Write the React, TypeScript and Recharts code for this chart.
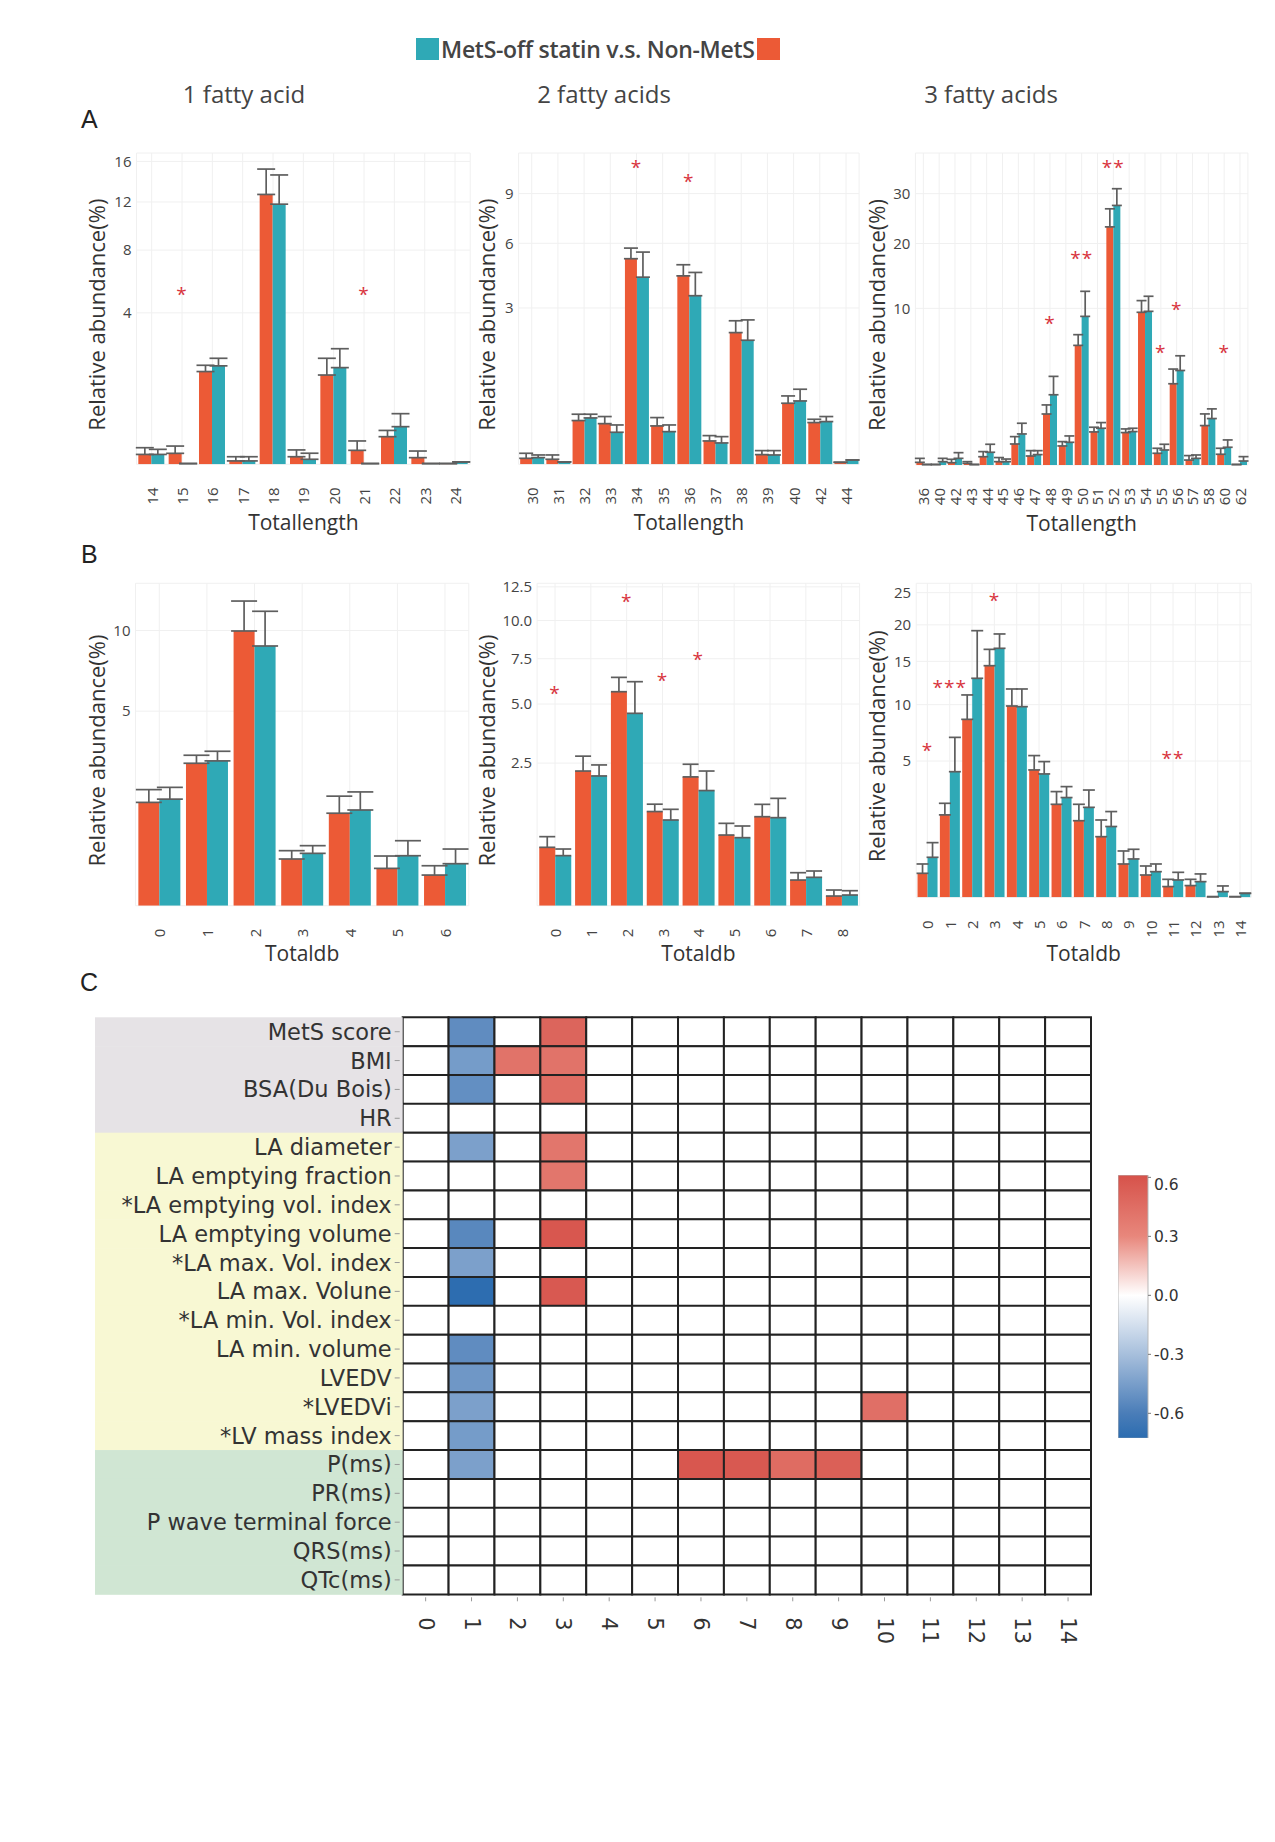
import React from 'react'
import {
  BarChart,
  Bar,
  XAxis,
  YAxis,
  CartesianGrid,
  ErrorBar,
  ReferenceDot,
  Label,
  Cell,
} from 'recharts'

const ORANGE = '#ec5a36'
const TEAL = '#2fa9b6'
const ERR = '#5e5e5e'
const STAR = '#d8333d'
const FONT = '"Open Sans", "DejaVu Sans", sans-serif'
const HM_FONT = '"DejaVu Sans", sans-serif'

// ---- A: total length, 1 / 2 / 3 fatty acids ----
const a1Cats = ['14', '15', '16', '17', '18', '19', '20', '21', '22', '23', '24']
const a1Non = [0.017, 0.021, 1.5, 0.002, 12.7, 0.01, 1.39, 0.034, 0.133, 0.0077, 0.0001]
const a1NonErr = [0.031, 0.037, 0.21, 0.008, 2.5, 0.026, 0.57, 0.061, 0.067, 0.023, 0]
const a1Mets = [0.017, 0.0001, 1.69, 0.002, 11.8, 0.0044, 1.63, 0.0001, 0.247, 0.0001, 0.001]
const a1MetsErr = [0.022, 0, 0.27, 0.008, 2.8, 0.017, 0.7, 0, 0.2, 0, 0]
const a1Stars = [
  { x: '15', y: 5.29, text: '*' },
  { x: '21', y: 5.29, text: '*' },
]

const a2Cats = ['30', '31', '32', '33', '34', '35', '36', '37', '38', '39', '40', '42', '44']
const a2Non = [0.0044, 0.0031, 0.235, 0.203, 5.19, 0.181, 4.36, 0.067, 2.13, 0.0115, 0.458, 0.214, 0.0005]
const a2NonErr = [0.0105, 0.0076, 0.073, 0.077, 0.55, 0.087, 0.53, 0.034, 0.4, 0.0115, 0.116, 0.035, 0]
const a2Mets = [0.0055, 0.0007, 0.264, 0.126, 4.3, 0.131, 3.49, 0.056, 1.89, 0.0107, 0.493, 0.224, 0.0023]
const a2MetsErr = [0.0052, 0, 0.044, 0.064, 1.23, 0.059, 1.03, 0.038, 0.67, 0.0123, 0.199, 0.056, 0]
const a2Stars = [
  { x: '34', y: 11.09, text: '*' },
  { x: '36', y: 10.13, text: '*' },
]

const a3Cats = ['36', '40', '42', '43', '44', '45', '46', '47', '48', '49', '50', '51', '52', '53', '54', '55', '56', '57', '58', '60', '62']
const a3Non = [0.0029, 0.0001, 0.0022, 0.0011, 0.028, 0.0045, 0.18, 0.033, 1.06, 0.148, 5.83, 0.446, 23.1, 0.428, 9.5, 0.056, 2.69, 0.01, 0.633, 0.047, 0.0001]
const a3NonErr = [0.015, 0, 0.011, 0.0034, 0.045, 0.018, 0.148, 0.051, 0.41, 0.075, 1.09, 0.135, 3.64, 0.102, 1.51, 0.058, 1.06, 0.026, 0.43, 0.067, 0]
const a3Mets = [0.0001, 0.0045, 0.018, 0.0001, 0.066, 0.0045, 0.393, 0.044, 2.01, 0.21, 9.0, 0.55, 27.45, 0.455, 9.62, 0.092, 3.64, 0.018, 0.879, 0.128, 0.0065]
const a3MetsErr = [0, 0.0135, 0.044, 0, 0.109, 0.01, 0.317, 0.04, 1.19, 0.134, 3.29, 0.183, 3.65, 0.095, 1.98, 0.083, 1.22, 0.023, 0.404, 0.128, 0.022]
const a3Stars = [
  { x: '48', y: 8.6, text: '*' },
  { x: '50', y: 18.05, text: '**' },
  { x: '52', y: 37.1, text: '**' },
  { x: '55', y: 5.51, text: '*' },
  { x: '56', y: 10.39, text: '*' },
  { x: '60', y: 5.57, text: '*' },
]

// ---- B: total double bonds ----
const b1Cats = ['0', '1', '2', '3', '4', '5', '6']
const b1Non = [1.41, 2.68, 9.97, 0.288, 1.13, 0.184, 0.124]
const b1NonErr = [0.37, 0.31, 2.29, 0.112, 0.455, 0.142, 0.087]
const b1Mets = [1.5, 2.77, 8.91, 0.362, 1.21, 0.33, 0.233]
const b1MetsErr = [0.35, 0.38, 2.54, 0.114, 0.5, 0.228, 0.191]

const b2Cats = ['0', '1', '2', '3', '4', '5', '6', '7', '8']
const b2Non = [0.419, 2.23, 5.63, 1.09, 2.04, 0.614, 0.974, 0.081, 0.0115]
const b2NonErr = [0.167, 0.52, 0.78, 0.177, 0.42, 0.22, 0.289, 0.053, 0.0187]
const b2Mets = [0.308, 2.07, 4.55, 0.903, 1.63, 0.569, 0.953, 0.099, 0.014]
const b2MetsErr = [0.087, 0.366, 1.62, 0.239, 0.6, 0.212, 0.464, 0.049, 0.0137]
const b2Stars = [
  { x: '0', y: 5.77, text: '*' },
  { x: '2', y: 11.69, text: '*' },
  { x: '3', y: 6.49, text: '*' },
  { x: '4', y: 7.69, text: '*' },
]

const b3Cats = ['0', '1', '2', '3', '4', '5', '6', '7', '8', '9', '10', '11', '12', '13', '14']
const b3Non = [0.155, 1.83, 8.53, 14.45, 9.86, 4.37, 2.33, 1.58, 0.99, 0.299, 0.134, 0.031, 0.037, 0.0001, 0.0001]
const b3NonErr = [0.144, 0.55, 2.5, 2.11, 1.83, 1.04, 0.68, 0.75, 0.62, 0.279, 0.13, 0.056, 0.05, 0, 0]
const b3Mets = [0.431, 4.25, 12.92, 16.7, 9.79, 4.1, 2.68, 2.18, 1.35, 0.396, 0.177, 0.081, 0.066, 0.0087, 0.0043]
const b3MetsErr = [0.374, 2.64, 6.23, 1.98, 1.9, 0.86, 0.62, 0.92, 0.63, 0.225, 0.122, 0.087, 0.081, 0.026, 0]
const b3Stars = [
  { x: '0', y: 6.11, text: '*' },
  { x: '1', y: 12.33, text: '***' },
  { x: '3', y: 24.46, text: '*' },
  { x: '11', y: 5.51, text: '**' },
]

// ---- C: correlation heatmap ----
const heatRows = [
  'MetS score', 'BMI', 'BSA(Du Bois)', 'HR',
  'LA diameter', 'LA emptying fraction', '*LA emptying vol. index', 'LA emptying volume',
  '*LA max. Vol. index', 'LA max. Volune', '*LA min. Vol. index', 'LA min. volume',
  'LVEDV', '*LVEDVi', '*LV mass index',
  'P(ms)', 'PR(ms)', 'P wave terminal force', 'QRS(ms)', 'QTc(ms)',
]
const heatGroups = [
  'body', 'body', 'body', 'body',
  'echo', 'echo', 'echo', 'echo', 'echo', 'echo', 'echo', 'echo', 'echo', 'echo', 'echo',
  'ecg', 'ecg', 'ecg', 'ecg', 'ecg',
]
const heatCols = [0, 1, 2, 3, 4, 5, 6, 7, 8, 9, 10, 11, 12, 13, 14]
// [row, column, correlation]
const heatCells: [number, number, number][] = [
  [0, 1, -0.53], [0, 3, 0.5],
  [1, 1, -0.46], [1, 2, 0.42], [1, 3, 0.42],
  [2, 1, -0.52], [2, 3, 0.46],
  [4, 1, -0.44], [4, 3, 0.4],
  [5, 3, 0.4],
  [7, 1, -0.55], [7, 3, 0.58],
  [8, 1, -0.44],
  [9, 1, -0.72], [9, 3, 0.57],
  [11, 1, -0.53],
  [12, 1, -0.48],
  [13, 1, -0.44], [13, 10, 0.44],
  [14, 1, -0.46],
  [15, 1, -0.44], [15, 6, 0.58], [15, 7, 0.57], [15, 8, 0.46], [15, 9, 0.53],
]
const colorTicks = [-0.6, -0.3, 0, 0.3, 0.6]
const colorMin = -0.727
const colorMax = 0.612

const groupBg: Record<string, string> = { body: '#e6e3e6', echo: '#f8f8d3', ecg: '#d0e6d3' }
const scaleStops: [number, string][] = [
  [-0.727, '#2b6cb0'],
  [-0.6, '#4a7db8'],
  [-0.3, '#a7bfdc'],
  [0, '#ffffff'],
  [0.3, '#e8877c'],
  [0.612, '#d6524a'],
]

function hexToRgb(h: string) {
  return [1, 3, 5].map(i => parseInt(h.slice(i, i + 2), 16))
}

function corrColor(v: number) {
  for (let i = 0; i < scaleStops.length - 1; i++) {
    const [v0, c0] = scaleStops[i]
    const [v1, c1] = scaleStops[i + 1]
    if (v >= v0 && v <= v1) {
      const t = (v - v0) / (v1 - v0)
      const a = hexToRgb(c0)
      const b = hexToRgb(c1)
      const rgb = a.map((x, k) => Math.round(x + (b[k] - x) * t))
      return `rgb(${rgb.join(',')})`
    }
  }
  return v < 0 ? scaleStops[0][1] : scaleStops[scaleStops.length - 1][1]
}

interface Star { x: string; y: number; text: string }

interface PanelProps {
  left: number
  top: number
  width: number
  height: number
  plotLeft: number
  plotTop: number
  plotRight: number
  plotBottom: number
  cats: string[]
  non: number[]
  nonErr: number[]
  mets: number[]
  metsErr: number[]
  yMax: number
  yTicks: number[]
  tickFmt?: (v: number) => string
  stars: Star[]
  xTitle: string
  xTitleY: number
  titleX: number
  capW: number
}

const starLabel = (text: string) => (props: any) => {
  const vb = props.viewBox || {}
  const cx = vb.x + (vb.width || 0) / 2
  const cy = vb.y + (vb.height || 0) / 2
  return (
    <text x={cx} y={cy} dy="0.56em" textAnchor="middle" fill={STAR} fontSize={19} fontFamily={FONT} letterSpacing={1}>
      {text}
    </text>
  )
}

function Panel(p: PanelProps) {
  const data = p.cats.map((c, i) => ({
    cat: c,
    non: p.non[i],
    mets: p.mets[i],
    nonErr: [0, p.nonErr[i]],
    metsErr: [0, p.metsErr[i]],
  }))
  const yW = p.plotLeft - p.left
  const xH = p.top + p.height - p.plotBottom
  const midX = (p.plotLeft + p.plotRight) / 2 - p.left
  const midY = (p.plotTop + p.plotBottom) / 2 - p.top + 6
  const titleX = p.titleX - p.left

  return (
    <div style={{ position: 'absolute', left: p.left, top: p.top }}>
      <BarChart
        width={p.width}
        height={p.height}
        data={data}
        margin={{ top: p.plotTop - p.top, right: p.left + p.width - p.plotRight, left: 0, bottom: 0 }}
        barCategoryGap="6%"
        barGap={0}
      >
        <CartesianGrid stroke="#f0f0f0" strokeWidth={1} />
        <XAxis
          dataKey="cat"
          height={xH}
          axisLine={false}
          tickLine={false}
          tickSize={0}
          tickMargin={0}
          interval={0}
          tick={(t: any) => (
            <text
              transform={`rotate(-90, ${t.x}, ${t.y + 23})`}
              x={t.x}
              y={t.y + 23}
              textAnchor="end"
              dominantBaseline="central"
              fontSize={15}
              fill="#444"
              fontFamily={FONT}
            >
              {t.payload.value}
            </text>
          )}
        >
          <Label
            content={() => (
              <text x={midX} y={p.xTitleY - p.top} textAnchor="middle" dominantBaseline="central" fontSize={21} fill="#333" fontFamily={FONT}>
                {p.xTitle}
              </text>
            )}
          />
        </XAxis>
        <YAxis
          type="number"
          scale="sqrt"
          domain={[0, p.yMax]}
          ticks={p.yTicks}
          width={yW}
          axisLine={false}
          tickLine={false}
          tickSize={0}
          tickMargin={5}
          allowDataOverflow
          tickFormatter={p.tickFmt}
          tick={{ fontSize: 15, fill: '#444', fontFamily: FONT }}
        >
          <Label
            content={() => (
              <text
                transform={`rotate(-90, ${titleX}, ${midY})`}
                x={titleX}
                y={midY}
                textAnchor="middle"
                dominantBaseline="central"
                fontSize={22}
                fill="#333"
                fontFamily={FONT}
              >
                Relative abundance(%)
              </text>
            )}
          />
        </YAxis>
        <Bar dataKey="non" fill={ORANGE} isAnimationActive={false}>
          <ErrorBar dataKey="nonErr" width={p.capW} stroke={ERR} strokeWidth={1.7} direction="y" isAnimationActive={false} />
        </Bar>
        <Bar dataKey="mets" fill={TEAL} isAnimationActive={false}>
          <ErrorBar dataKey="metsErr" width={p.capW} stroke={ERR} strokeWidth={1.7} direction="y" isAnimationActive={false} />
        </Bar>
        {p.stars.map((s, i) => (
          <ReferenceDot key={i} x={s.x} y={s.y} r={0} ifOverflow="visible" label={starLabel(s.text)} />
        ))}
      </BarChart>
    </div>
  )
}

// heatmap geometry (page pixels)
const HM_LEFT = 80
const HM_TOP = 1000
const HM_PLOT_LEFT = 402.7
const HM_PLOT_TOP = 1017.3
const HM_PLOT_RIGHT = 1091
const HM_PLOT_BOTTOM = 1594.3
const HM_W = 1030
const HM_H = 680
const BAND_LEFT = 95

function Heatmap() {
  const lookup: Record<string, number> = {}
  heatCells.forEach(([r, c, v]) => { lookup[`${r}-${c}`] = v })
  const data = heatRows.map((label, r) => {
    const row: any = { label, group: heatGroups[r] }
    heatCols.forEach(c => { row['c' + c] = 1 })
    return row
  })
  const rowH = (HM_PLOT_BOTTOM - HM_PLOT_TOP) / heatRows.length
  const yW = HM_PLOT_LEFT - HM_LEFT

  return (
    <div style={{ position: 'absolute', left: HM_LEFT, top: HM_TOP }}>
      <BarChart
        width={HM_W}
        height={HM_H}
        data={data}
        layout="vertical"
        margin={{ top: HM_PLOT_TOP - HM_TOP, right: HM_LEFT + HM_W - HM_PLOT_RIGHT, left: 0, bottom: 6 }}
        barCategoryGap={0}
        barGap={0}
      >
        <XAxis
          type="number"
          domain={[0, heatCols.length]}
          ticks={heatCols.map(c => c + 0.5)}
          interval={0}
          height={HM_TOP + HM_H - 6 - HM_PLOT_BOTTOM}
          axisLine={false}
          tickLine={false}
          tickSize={0}
          tickMargin={0}
          tick={(t: any) => (
            <g>
              <line x1={t.x} x2={t.x} y1={t.y + 3} y2={t.y + 7} stroke="#999" strokeWidth={1} />
              <text
                transform={`rotate(90, ${t.x}, ${t.y + 23})`}
                x={t.x}
                y={t.y + 23}
                textAnchor="start"
                dominantBaseline="central"
                fontSize={21}
                fill="#333"
                fontFamily={HM_FONT}
              >
                {String(Math.round(t.payload.value - 0.5))}
              </text>
            </g>
          )}
        />
        <YAxis
          type="category"
          dataKey="label"
          width={yW}
          interval={0}
          axisLine={false}
          tickLine={false}
          tickSize={0}
          tickMargin={0}
          tick={(t: any) => {
            const g = heatGroups[t.index]
            const bandW = t.x - (BAND_LEFT - HM_LEFT)
            return (
              <g>
                <rect x={t.x - bandW} y={t.y - rowH / 2} width={bandW} height={rowH + 0.5} fill={groupBg[g]} />
                <line x1={t.x - 8} x2={t.x - 3} y1={t.y} y2={t.y} stroke="#999" strokeWidth={1} />
                <text x={t.x - 11} y={t.y} textAnchor="end" dominantBaseline="central" fontSize={22.5} fill="#333" fontFamily={HM_FONT}>
                  {t.payload.value}
                </text>
              </g>
            )
          }}
        />
        {heatCols.map(c => (
          <Bar key={c} dataKey={'c' + c} stackId="h" isAnimationActive={false}>
            {heatRows.map((_, r) => {
              const v = lookup[`${r}-${c}`]
              return <Cell key={r} fill={v === undefined ? '#ffffff' : corrColor(v)} stroke="#222" strokeWidth={2} />
            })}
          </Bar>
        ))}
      </BarChart>
    </div>
  )
}

function ColorBar() {
  const span = colorMax - colorMin
  return (
    <div style={{ position: 'absolute', left: 1118.3, top: 1175 }}>
      <BarChart
        width={100}
        height={263.3}
        data={[{ k: 'scale', v: [colorMin, colorMax] }]}
        margin={{ top: 0, right: 10, left: 0, bottom: 0 }}
        barCategoryGap={0}
      >
        <defs>
          <linearGradient id="corrGrad" x1="0" y1="0" x2="0" y2="1">
            {[...scaleStops].reverse().map(([v, c]) => (
              <stop key={v} offset={`${((colorMax - v) / span) * 100}%`} stopColor={c} />
            ))}
          </linearGradient>
        </defs>
        <XAxis dataKey="k" hide />
        <YAxis
          orientation="right"
          type="number"
          domain={[colorMin, colorMax]}
          ticks={colorTicks}
          width={60}
          allowDataOverflow
          axisLine={false}
          tickSize={3}
          tickMargin={3}
          tickLine={{ stroke: '#777' }}
          tickFormatter={(v: number) => v.toFixed(1)}
          tick={{ fontSize: 15.5, fill: '#333', fontFamily: HM_FONT }}
        />
        <Bar dataKey="v" fill="url(#corrGrad)" stroke="#b8b8b8" strokeWidth={1} isAnimationActive={false} />
      </BarChart>
    </div>
  )
}

const textStyle: React.CSSProperties = {
  position: 'absolute',
  fontFamily: FONT,
  color: '#444',
  whiteSpace: 'nowrap',
  lineHeight: 1,
}

const letterStyle: React.CSSProperties = {
  ...textStyle,
  fontSize: 25,
  color: '#222',
  fontFamily: '"Liberation Sans", Arial, sans-serif',
}

export default function App() {
  return (
    <div style={{ position: 'absolute', left: 0, top: 0, width: 1275, height: 1842, background: '#fff' }}>
      {/* legend */}
      <div style={{ position: 'absolute', left: 416, top: 37, display: 'flex', alignItems: 'center', height: 23 }}>
        <div style={{ width: 23, height: 22, background: TEAL }} />
        <span style={{ fontFamily: FONT, fontSize: 23, fontWeight: 600, color: '#444', margin: '0 2px', whiteSpace: 'nowrap', letterSpacing: -0.3 }}>
          MetS-off statin v.s. Non-MetS
        </span>
        <div style={{ width: 23, height: 22, background: ORANGE }} />
      </div>

      {/* column titles and panel letters */}
      <div style={{ ...textStyle, left: 244, top: 82, fontSize: 24, transform: 'translateX(-50%)' }}>1 fatty acid</div>
      <div style={{ ...textStyle, left: 604, top: 82, fontSize: 24, transform: 'translateX(-50%)' }}>2 fatty acids</div>
      <div style={{ ...textStyle, left: 991, top: 82, fontSize: 24, transform: 'translateX(-50%)' }}>3 fatty acids</div>
      <div style={{ ...letterStyle, left: 81, top: 107 }}>A</div>
      <div style={{ ...letterStyle, left: 81, top: 542 }}>B</div>
      <div style={{ ...letterStyle, left: 80, top: 970 }}>C</div>

      <Panel left={82} top={140} width={398} height={400} plotLeft={136.5} plotTop={153} plotRight={470.2} plotBottom={464.3}
        cats={a1Cats} non={a1Non} nonErr={a1NonErr} mets={a1Mets} metsErr={a1MetsErr}
        yMax={16.9} yTicks={[4, 8, 12, 16]} stars={a1Stars} xTitle="Totallength" xTitleY={522} titleX={96} capW={9} />
      <Panel left={472} top={140} width={398} height={400} plotLeft={518.6} plotTop={153} plotRight={859.1} plotBottom={464.3}
        cats={a2Cats} non={a2Non} nonErr={a2NonErr} mets={a2Mets} metsErr={a2MetsErr}
        yMax={11.9} yTicks={[3, 6, 9]} stars={a2Stars} xTitle="Totallength" xTitleY={522} titleX={486} capW={7} />
      <Panel left={862} top={140} width={406} height={400} plotLeft={915.4} plotTop={153} plotRight={1247.9} plotBottom={465}
        cats={a3Cats} non={a3Non} nonErr={a3NonErr} mets={a3Mets} metsErr={a3MetsErr}
        yMax={39.66} yTicks={[10, 20, 30]} stars={a3Stars} xTitle="Totallength" xTitleY={523} titleX={876} capW={5} />

      <Panel left={82} top={570} width={398} height={405} plotLeft={135.5} plotTop={583.3} plotRight={468.8} plotBottom={905.7}
        cats={b1Cats} non={b1Non} nonErr={b1NonErr} mets={b1Mets} metsErr={b1MetsErr}
        yMax={13.73} yTicks={[5, 10]} stars={[]} xTitle="Totaldb" xTitleY={953} titleX={96} capW={13} />
      <Panel left={472} top={570} width={398} height={405} plotLeft={537.1} plotTop={583.3} plotRight={859.6} plotBottom={905.7}
        cats={b2Cats} non={b2Non} nonErr={b2NonErr} mets={b2Mets} metsErr={b2MetsErr}
        yMax={12.78} yTicks={[2.5, 5, 7.5, 10, 12.5]} tickFmt={(v: number) => v.toFixed(1)}
        stars={b2Stars} xTitle="Totaldb" xTitleY={953} titleX={486} capW={8} />
      <Panel left={862} top={570} width={406} height={405} plotLeft={916.2} plotTop={583.3} plotRight={1251.2} plotBottom={897.3}
        cats={b3Cats} non={b3Non} nonErr={b3NonErr} mets={b3Mets} metsErr={b3MetsErr}
        yMax={26.56} yTicks={[5, 10, 15, 20, 25]} stars={b3Stars} xTitle="Totaldb" xTitleY={953} titleX={876} capW={6} />

      <Heatmap />
      <ColorBar />
    </div>
  )
}
